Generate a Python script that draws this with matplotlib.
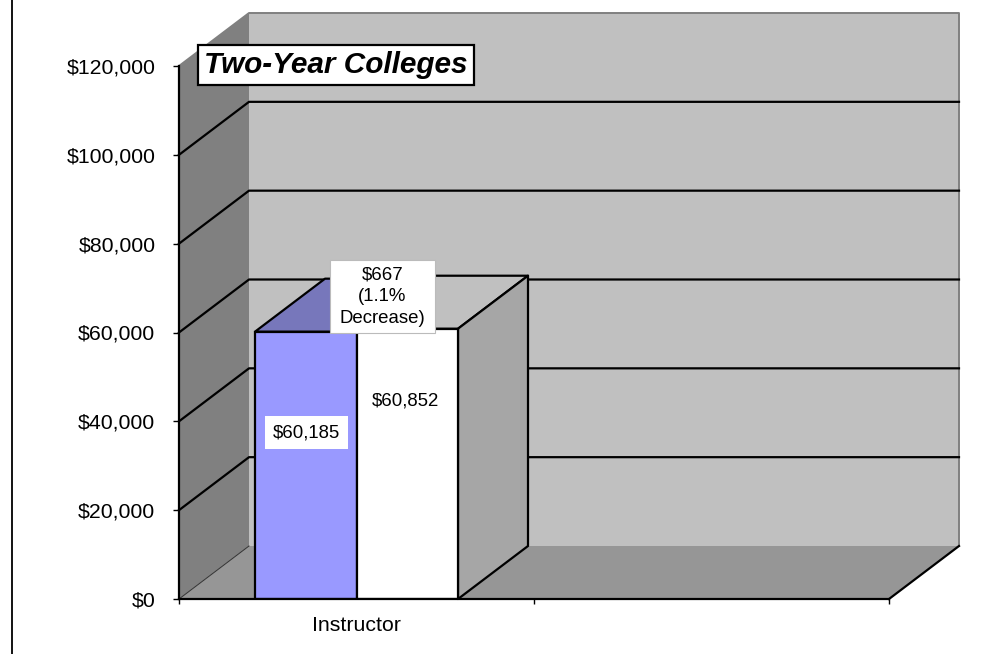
import matplotlib
matplotlib.use("Agg")
import matplotlib.pyplot as plt
from matplotlib.lines import Line2D
from matplotlib.patches import Polygon, Rectangle

plt.rcParams['font.family'] = ['Liberation Sans', 'DejaVu Sans']

categories = ["Instructor", ""]
yticks = [0, 20000, 40000, 60000, 80000, 100000, 120000]
ytick_labels = ["$0", "$20,000", "$40,000", "$60,000", "$80,000", "$100,000", "$120,000"]
series_2009 = [60185]
series_2008 = [60852]
label_2009 = "$60,185"
label_2008 = "$60,852"
change_label = "$667\n(1.1%\nDecrease)"
title = "Two-Year Colleges"

W, H = 993, 654
LEFT, RIGHT, TOP, BOTTOM = 179, 889, 66, 599

fig = plt.figure(figsize=(W / 100, H / 100), dpi=100)
ax = fig.add_axes([LEFT / W, 1 - BOTTOM / H, (RIGHT - LEFT) / W, (BOTTOM - TOP) / H])
ax.set_xlim(0, 2)
ax.set_ylim(0, 120000)

# 3d look: back wall is the front plane shifted by this much
DX = 70 / (RIGHT - LEFT) * 2
DY = 53 / (BOTTOM - TOP) * 120000
YMAX = 120000
XMAX = 2


def face(pts, color, z, edge="none", lw=0):
    ax.add_patch(Polygon(pts, closed=True, facecolor=color, edgecolor=edge, linewidth=lw,
                         zorder=z, clip_on=False, joinstyle="round"))


# walls and floor
face([(DX, DY), (XMAX + DX, DY), (XMAX + DX, YMAX + DY), (DX, YMAX + DY)], "#C0C0C0", 1)
face([(0, 0), (DX, DY), (DX, YMAX + DY), (0, YMAX)], "#808080", 1)
face([(0, 0), (XMAX, 0), (XMAX + DX, DY), (DX, DY)], "#969696", 1)

# outline of the walls
ax.plot([0, DX, XMAX + DX, XMAX + DX], [YMAX, YMAX + DY, YMAX + DY, DY], color="#808080",
        lw=1.4, zorder=1.5, clip_on=False)
ax.plot([XMAX, XMAX + DX], [0, DY], color="black", lw=1.6, zorder=1.5, clip_on=False)
ax.plot([0, DX], [0, DY], color="#303030", lw=0.7, zorder=1.5, clip_on=False)

# gridlines run across side wall and back wall
for v in yticks[1:-1]:
    ax.plot([0, DX, XMAX + DX], [v, v + DY, v + DY], color="black", lw=1.6, zorder=2,
            clip_on=False, solid_joinstyle="round")

# bars
bar_w = 101.5 / (RIGHT - LEFT) * 2
x0 = 0.5
v1, v2 = series_2009[0], series_2008[0]
ax.bar([x0 - bar_w / 2], series_2009, width=bar_w, color="#9999FF", edgecolor="black", linewidth=1.6, zorder=4)
ax.bar([x0 + bar_w / 2], series_2008, width=bar_w, color="white", edgecolor="black", linewidth=1.6, zorder=4)

xa, xb, xc = x0 - bar_w, x0, x0 + bar_w
face([(xa, v1), (xb, v1), (xb + DX, v1 + DY), (xa + DX, v1 + DY)], "#7777BB", 3, "black", 1.6)
face([(xb, v2), (xc, v2), (xc + DX, v2 + DY), (xb + DX, v2 + DY)], "#C0C0C0", 3, "black", 1.6)
face([(xc, 0), (xc + DX, DY), (xc + DX, v2 + DY), (xc, v2)], "#A6A6A6", 3, "black", 1.6)

# labels
ax.text(xa + bar_w * 0.51, 37400, label_2009, ha="center", va="center", fontsize=13.4, color="black", zorder=6,
        bbox=dict(facecolor="white", edgecolor="none", pad=5.8))
ax.text(xb + bar_w * 0.48, 44500, label_2008, ha="center", va="center", fontsize=13.4, color="black", zorder=6)
ax.add_patch(Rectangle((0.425, 59887), 0.296, 16436, facecolor="white", edgecolor="#BBBBBB", linewidth=0.8,
                       zorder=5.5, clip_on=False))
ax.text(0.573, 68000, change_label, ha="center", va="center", fontsize=13.4, color="black", zorder=6,
        linespacing=1.36)

fig.text(336 / W, 1 - 65 / H, title, ha="center", va="center", fontsize=21.4, fontweight="bold", style="italic",
         zorder=10, bbox=dict(facecolor="white", edgecolor="black", linewidth=1.6, pad=4.5))

# axes
for s in ["top", "right"]:
    ax.spines[s].set_visible(False)
for s in ["left", "bottom"]:
    ax.spines[s].set_linewidth(1.6)
    ax.spines[s].set_zorder(5)
ax.patch.set_visible(False)

ax.set_yticks(yticks)
ax.set_yticklabels(ytick_labels, fontsize=15.3)
ax.tick_params(axis="y", length=4.5, width=1, pad=12.5)
ax.set_xticks([0, 1, 2])
ax.set_xticklabels([])
ax.tick_params(axis="x", length=3.5, width=1)
ax.set_xticks([0.5, 1.5], minor=True)
ax.set_xticklabels(categories, minor=True, fontsize=15.3)
ax.tick_params(axis="x", which="minor", length=0, pad=12.5)

# border line at the left of the slide
fig.add_artist(Line2D([11.5 / W, 11.5 / W], [0, 1], color="black", lw=1.3))

fig.savefig("out.png", dpi=100)
